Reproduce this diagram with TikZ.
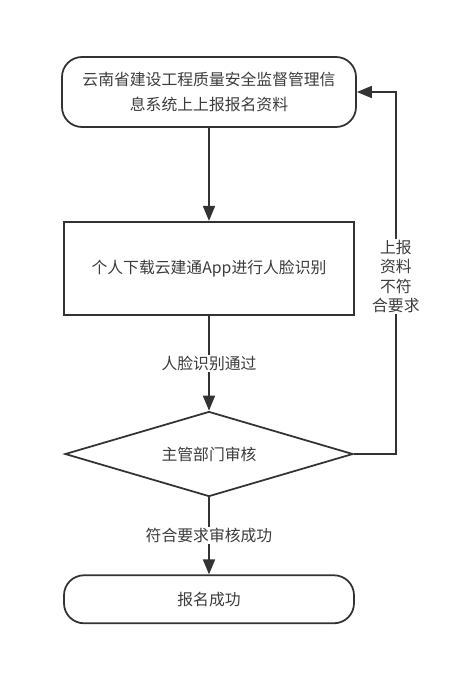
\documentclass[tikz,border=0pt]{standalone}
\usepackage{fontspec}
\setmainfont{Noto Sans CJK SC}
\usepackage{xcolor}
\usetikzlibrary{shapes.geometric, arrows.meta, positioning}
\definecolor{linegray}{HTML}{333333}
\definecolor{textgray}{HTML}{3C3C3C}

\begin{document}
\begin{tikzpicture}[
    node distance=2.8cm,
    box/.style={draw=linegray, line width=1.5pt, fill=white, align=center, text=textgray, font=\fontsize{13.5}{21}\selectfont},
    terminal/.style={box, rounded corners=0.6cm},
    process/.style={box},
    decision/.style={box, diamond, aspect=3.39, inner sep=0pt},
    arrow/.style={-{Triangle[length=0.45cm, width=0.36cm]}, draw=linegray, line width=1.5pt},
    label/.style={fill=white, text=textgray, align=center, inner sep=1pt, font=\fontsize{13.5}{16.6}\selectfont}
]
\useasboundingbox (0,0) rectangle (14.22,-20.79);

% Steps
\node[terminal, minimum width=8.82cm, minimum height=2.1cm] (submit) at (6.27,-2.76) {云南省建设工程质量安全监督管理信\\息系统上上报报名资料};
\node[process, minimum width=8.7cm, minimum height=2.79cm, below=2.79cm of submit] (face) {个人下载云建通App进行人脸识别};
\node[decision, minimum width=8.64cm, minimum height=2.55cm, below=2.85cm of face] (review) {主管部门审核};
\node[terminal, minimum width=8.7cm, minimum height=1.44cm, below=2.31cm of review] (done) {报名成功};

% Flow
\draw[arrow] (submit) -- (face);
\draw[arrow] (face) -- node[label] {人脸识别通过} (review);
\draw[arrow] (review) -- node[label] {符合要求审核成功} (done);

% Back to start
\coordinate[right=1.26cm of review.east] (back);
\draw[arrow] (review.east) -- (back) |- node[label, pos=0.245] {上报\\资料\\不符\\合要求} (submit.east);

\end{tikzpicture}
\end{document}
